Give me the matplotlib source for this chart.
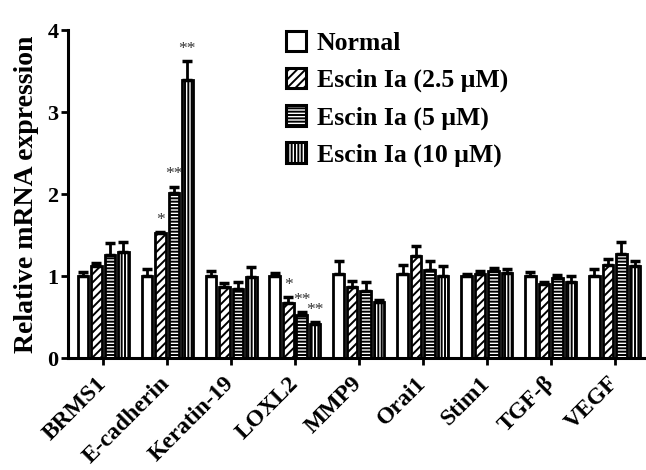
import matplotlib
matplotlib.use('Agg')
import matplotlib.pyplot as plt
import numpy as np
from matplotlib.patches import Patch

plt.rcParams['font.family'] = ['Liberation Serif', 'DejaVu Serif']
plt.rcParams['font.weight'] = 'bold'
plt.rcParams['hatch.linewidth'] = 1.4
plt.rcParams['hatch.color'] = 'black'

categories = ['BRMS1', 'E-cadherin', 'Keratin-19', 'LOXL2', 'MMP9', 'Orai1', 'Stim1', 'TGF-β', 'VEGF']
series_names = ['Normal', 'Escin Ia (2.5 μM)', 'Escin Ia (5 μM)', 'Escin Ia (10 μM)']

normal = [1.00, 1.00, 1.00, 1.00, 1.02, 1.02, 1.00, 1.00, 1.00]
normal_err = [0.05, 0.08, 0.06, 0.04, 0.16, 0.12, 0.02, 0.05, 0.08]
esc25 = [1.12, 1.52, 0.87, 0.67, 0.87, 1.25, 1.03, 0.90, 1.14]
esc25_err = [0.04, 0.02, 0.04, 0.07, 0.07, 0.11, 0.03, 0.03, 0.07]
esc5 = [1.26, 2.01, 0.84, 0.53, 0.82, 1.07, 1.06, 0.97, 1.27]
esc5_err = [0.14, 0.08, 0.09, 0.03, 0.11, 0.11, 0.04, 0.04, 0.14]
esc10 = [1.29, 3.39, 0.99, 0.42, 0.68, 1.00, 1.04, 0.93, 1.12]
esc10_err = [0.12, 0.23, 0.12, 0.02, 0.03, 0.12, 0.04, 0.07, 0.06]

# significance marks: (category index, series index, label)
stars = [(1, 1, '*'), (1, 2, '**'), (1, 3, '**'),
         (3, 1, '*'), (3, 2, '**'), (3, 3, '**')]

values = [normal, esc25, esc5, esc10]
errors = [normal_err, esc25_err, esc5_err, esc10_err]
hatches = ['', '////', '-----', '|||||']

fig = plt.figure(figsize=(6.46, 4.70), dpi=100)
ax = fig.add_axes([68/646, 112/470, 578/646, 328/470])

x = np.arange(len(categories))
pitch = 0.211
width = 0.165
offsets = (np.arange(4) - 1.5) * pitch

for i in range(4):
    ax.bar(x + offsets[i], values[i], width, color='white', edgecolor='black',
           linewidth=2.0, hatch=hatches[i], zorder=2)
    ax.errorbar(x + offsets[i], values[i],
                yerr=[np.zeros(len(categories)), errors[i]],
                fmt='none', ecolor='black', elinewidth=2.0, capsize=3.5,
                capthick=2.5, zorder=3)

for ci, si, lab in stars:
    top = values[si][ci] + errors[si][ci]
    ax.annotate(lab, (x[ci] + offsets[si], top), xytext=(0, 3),
                textcoords='offset points', ha='center', va='bottom',
                fontsize=12.5, fontweight='normal', color='#333333')

ax.set_xlim(-0.55, 8.49)
ax.set_ylim(0, 4)
ax.set_yticks([0, 1, 2, 3, 4])
ax.set_xticks(x)
ax.set_xticklabels(categories, rotation=45, ha='right', va='center',
                   rotation_mode='anchor', fontsize=17, fontweight='bold')
for lab in ax.get_yticklabels():
    lab.set_fontsize(16)
    lab.set_fontweight('bold')
ax.tick_params(axis='x', direction='out', length=5, width=2.0, pad=11)
ax.tick_params(axis='y', direction='out', length=5, width=2.0, pad=2)
for s in ['top', 'right']:
    ax.spines[s].set_visible(False)
for s in ['left', 'bottom']:
    ax.spines[s].set_linewidth(2.2)

ax.set_ylabel('Relative mRNA expression', fontsize=20, fontweight='bold', labelpad=6)

handles = [Patch(facecolor='white', edgecolor='black', linewidth=2.2, hatch=h)
           for h in hatches]
leg = ax.legend(handles, series_names, loc='upper left',
                bbox_to_anchor=(0.35, 1.045), frameon=False,
                prop={'size': 18.5, 'weight': 'bold'},
                handlelength=0.8, handleheight=0.85, handletextpad=0.4,
                labelspacing=0.5, borderaxespad=0.2)

fig.savefig('out.png', dpi=100)
